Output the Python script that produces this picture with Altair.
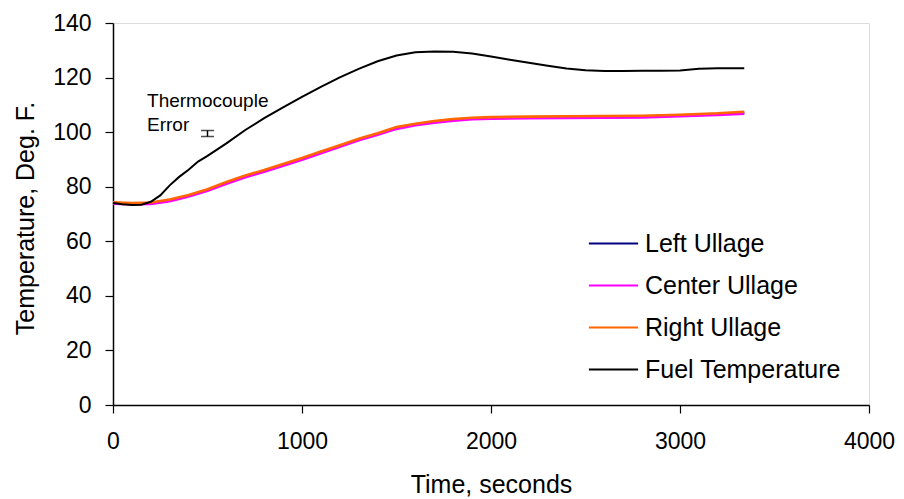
import altair as alt
import pandas as pd

# ---- data ----
fuel_time = [0, 50, 100, 150, 200, 250, 300, 350, 400, 450, 500, 600, 700, 800, 900,
             1000, 1100, 1200, 1300, 1400, 1500, 1600, 1700, 1800, 1900, 2000, 2100,
             2200, 2300, 2400, 2500, 2600, 2700, 2800, 2900, 3000, 3100, 3200, 3340]
fuel_temp = [74.0, 73.6, 73.3, 73.4, 74.5, 76.8, 80.5, 83.6, 86.2, 89.2, 91.3, 95.9,
             100.8, 105.1, 109.1, 112.9, 116.6, 120.1, 123.2, 126.0, 128.1, 129.3,
             129.6, 129.5, 128.8, 127.7, 126.5, 125.4, 124.3, 123.3, 122.7, 122.4,
             122.4, 122.5, 122.5, 122.6, 123.2, 123.4, 123.4]

ullage_time = [0, 100, 200, 300, 400, 500, 600, 700, 800, 900, 1000, 1100, 1200, 1300,
               1400, 1500, 1600, 1700, 1800, 1900, 2000, 2200, 2400, 2600, 2800, 3000,
               3200, 3340]
right_ullage = [74.3, 74.0, 74.2, 75.3, 77.0, 79.1, 81.7, 84.1, 86.1, 88.3, 90.5, 92.9,
                95.2, 97.6, 99.6, 101.9, 103.1, 104.1, 104.8, 105.3, 105.5, 105.7, 105.8,
                105.9, 106.0, 106.4, 106.9, 107.5]
left_ullage = [74.0, 73.8, 73.9, 75.0, 76.7, 78.8, 81.4, 83.8, 85.8, 88.0, 90.2, 92.6,
               94.9, 97.3, 99.3, 101.5, 102.8, 103.8, 104.5, 105.0, 105.2, 105.4, 105.5,
               105.6, 105.7, 106.1, 106.6, 107.1]
center_ullage = [73.8, 73.6, 73.7, 74.7, 76.4, 78.5, 81.1, 83.5, 85.5, 87.7, 89.9, 92.3,
                 94.6, 97.0, 99.0, 101.2, 102.5, 103.5, 104.2, 104.7, 104.9, 105.1, 105.2,
                 105.3, 105.4, 105.8, 106.3, 106.8]

series_names = ["Left Ullage", "Center Ullage", "Right Ullage", "Fuel Temperature"]
series_colors = ["#000080", "#FF00FF", "#FF6600", "#000000"]

err_time = [500]
err_low = [98.4]
err_high = [100.6]

note_time = [180, 180]
note_temp = [109.3, 100.4]
note_text = ["Thermocouple", "Error"]

x_ticks = [0, 1000, 2000, 3000, 4000]
y_ticks = [0, 20, 40, 60, 80, 100, 120, 140]

# ---- build table ----
rows = []
for name, times, vals in [("Left Ullage", ullage_time, left_ullage),
                          ("Center Ullage", ullage_time, center_ullage),
                          ("Right Ullage", ullage_time, right_ullage),
                          ("Fuel Temperature", fuel_time, fuel_temp)]:
    for t, v in zip(times, vals):
        rows.append({"series": name, "time": t, "temp": v})
df = pd.DataFrame(rows)

err_df = pd.DataFrame({"time": err_time, "lo": err_low, "hi": err_high})
note_df = pd.DataFrame({"time": note_time, "temp": note_temp, "text": note_text})

FONT = "Liberation Sans"

x_scale = alt.Scale(domain=[0, 4000], nice=False)
y_scale = alt.Scale(domain=[0, 140], nice=False)
color_scale = alt.Scale(domain=series_names, range=series_colors)

x_axis = alt.Axis(values=x_ticks, title="Time, seconds", grid=False, format="d",
                  labelFontSize=23, titleFontSize=25, labelFont=FONT, titleFont=FONT,
                  labelColor="black", titleColor="black", titleFontWeight="normal",
                  domainColor="black", domainWidth=1.5, tickColor="black", tickWidth=1.2,
                  tickSize=8, labelPadding=17, titleBaseline="alphabetic", titleY=87,
                  labelFlush=False)
y_axis = alt.Axis(values=y_ticks, title="Temperature, Deg. F.", grid=False,
                  labelFontSize=23, titleFontSize=25, labelFont=FONT, titleFont=FONT,
                  labelColor="black", titleColor="black", titleFontWeight="normal",
                  domainColor="black", domainWidth=1.5, tickColor="black", tickWidth=1.2,
                  tickSize=8, labelPadding=14, titleBaseline="alphabetic", titleX=-80,
                  titleY=195, titleAngle=-90, labelFlush=False)

legend = alt.Legend(title=None, orient="none", legendX=479, legendY=199,
                    labelFont=FONT, labelFontSize=25, labelColor="black",
                    symbolType="M-1.2,0H1.2", symbolSize=1681, symbolStrokeWidth=2,
                    labelOffset=10, rowPadding=7, padding=0, labelLimit=400)

layers = []
for i, name in enumerate(series_names):
    sw = 2.0 if name == "Fuel Temperature" else 2.6
    layers.append(
        alt.Chart(df).transform_filter(alt.datum.series == name)
        .mark_line(strokeWidth=sw)
        .encode(
            x=alt.X("time:Q", scale=x_scale, axis=x_axis),
            y=alt.Y("temp:Q", scale=y_scale, axis=y_axis),
            color=alt.Color("series:N", scale=color_scale, legend=legend,
                            sort=series_names),
        )
    )

err_rule = alt.Chart(err_df).mark_rule(color="black", strokeWidth=1.5).encode(
    x="time:Q", y="lo:Q", y2="hi:Q")
err_cap_lo = alt.Chart(err_df).mark_tick(color="black", thickness=1.5, size=13,
                                          orient="horizontal").encode(x="time:Q", y="lo:Q")
err_cap_hi = alt.Chart(err_df).mark_tick(color="black", thickness=1.5, size=13,
                                          orient="horizontal").encode(x="time:Q", y="hi:Q")

notes = alt.Chart(note_df).mark_text(align="left", baseline="alphabetic", font=FONT,
                                     fontSize=19, color="black").encode(
    x="time:Q", y="temp:Q", text="text:N")

chart = alt.layer(*layers, err_rule, err_cap_lo, err_cap_hi, notes).properties(
    width=756, height=382,
    autosize=alt.AutoSizeParams(type="none"),
    padding={"left": 105, "top": 15, "right": 26, "bottom": 92},
).configure_view(stroke="#999999", strokeWidth=1.5).configure(background="white")

chart.save("out.html", embed_options={"renderer": "svg", "actions": False})
